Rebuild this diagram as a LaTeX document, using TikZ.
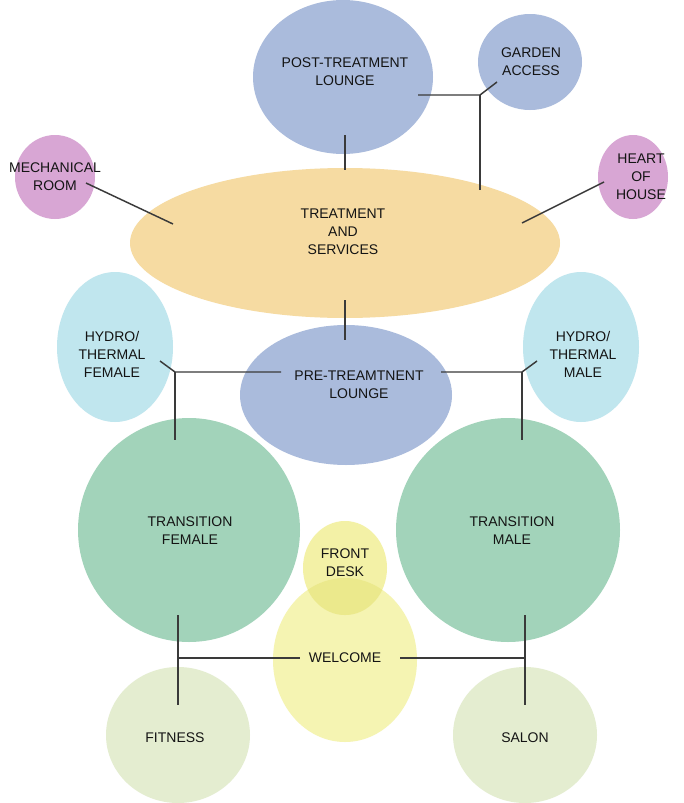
\documentclass[tikz,border=0pt]{standalone}
\usepackage{fontspec}
\setmainfont{Liberation Sans}
\usetikzlibrary{shapes.geometric}
\definecolor{cblue}{HTML}{AABBDC}
\definecolor{corange}{HTML}{F6DBA2}
\definecolor{cpink}{HTML}{D8A6D4}
\definecolor{ccyan}{HTML}{C0E6EE}
\definecolor{cgreen}{HTML}{A2D3BA}
\definecolor{cyel}{HTML}{F5F4B2}
\definecolor{cyeltwo}{HTML}{F3F1A6}
\definecolor{cyelov}{HTML}{EBE98C}
\definecolor{clgreen}{HTML}{E4EDD0}
\definecolor{cline}{HTML}{3A3A3A}
\begin{document}
\begin{tikzpicture}[x=0.75pt,y=-0.75pt,
  blob/.style n args={3}{ellipse, draw=none, fill=#1, inner sep=0pt, minimum width=#2*1.5pt, minimum height=#3*1.5pt},
  lbl/.style={align=center, font=\fontsize{10.5}{13.5}\selectfont, text=black!92, inner sep=0pt},
  link/.style={draw=cline, line width=1.1pt}]
\useasboundingbox[fill=white] (0,0) rectangle (683,803);
% shapes
\node[blob={cblue}{90}{77}] (post) at (343,77) {};
\node[blob={cblue}{52}{48}] (garden) at (530,62) {};
\node[blob={corange}{215}{75}] (treat) at (345,243) {};
\node[blob={cpink}{40}{42}] (mech) at (55,177) {};
\node[blob={cpink}{35}{42}] (heart) at (633,177) {};
\node[blob={ccyan}{58}{75}] (hydf) at (115,347) {};
\node[blob={ccyan}{58}{75}] (hydm) at (581,347) {};
\node[blob={cblue}{106}{70}] (pre) at (346,395) {};
\node[blob={cgreen}{111}{112}] (trf) at (189,530) {};
\node[blob={cgreen}{112}{112}] (trm) at (508,530) {};
\node[blob={cyel}{72}{82}] (welc) at (345,660) {};
\node[blob={cyeltwo}{42}{47}] (desk) at (345,568) {};
\begin{scope}
  \clip (345,660) ellipse [x radius=54pt, y radius=61.5pt];
  \fill[cyelov] (345,568) ellipse [x radius=31.5pt, y radius=35.25pt];
\end{scope}
\node[blob={clgreen}{72}{68}] (fit) at (178,735) {};
\node[blob={clgreen}{72}{68}] (sal) at (525,735) {};
% labels
\node[lbl] (tpost) at (345,72) {POST-TREATMENT\\LOUNGE};
\node[lbl] (tgarden) at (531,62) {GARDEN\\ACCESS};
\node[lbl] (ttreat) at (343,232) {TREATMENT\\AND\\SERVICES};
\node[lbl] (tmech) at (55,177) {MECHANICAL\\ROOM};
\node[lbl] (theart) at (641,177) {HEART\\OF\\HOUSE};
\node[lbl] (thydf) at (112,354) {HYDRO/\\THERMAL\\FEMALE};
\node[lbl] (thydm) at (583,354) {HYDRO/\\THERMAL\\MALE};
\node[lbl] (tpre) at (359,385) {PRE-TREAMTNENT\\LOUNGE};
\node[lbl] (ttrf) at (190,531) {TRANSITION\\FEMALE};
\node[lbl] (ttrm) at (512,531) {TRANSITION\\MALE};
\node[lbl] (tdesk) at (345,563) {FRONT\\DESK};
\node[lbl] (twelc) at (345,658) {WELCOME};
\node[lbl] (tfit) at (175,738) {FITNESS};
\node[lbl] (tsal) at (525,738) {SALON};
% connector points
\coordinate (p1) at (345,135); \coordinate (p2) at (345,170);
\coordinate (g1) at (418,95); \coordinate (gj) at (480,95);
\coordinate (g2) at (497,82); \coordinate (g3) at (480,190);
\coordinate (m1) at (86,183); \coordinate (m2) at (173,224);
\coordinate (h1) at (604,182); \coordinate (h2) at (522,223);
\coordinate (tp1) at (345,300); \coordinate (tp2) at (345,340);
\coordinate (hf1) at (160,361); \coordinate (hfj) at (175,372);
\coordinate (hf2) at (281,372); \coordinate (hf3) at (175,440);
\coordinate (hm1) at (537,361); \coordinate (hmj) at (522,372);
\coordinate (hm2) at (441,372); \coordinate (hm3) at (522,440);
\coordinate (bl1) at (178,615); \coordinate (blj) at (178,658);
\coordinate (bl2) at (178,705); \coordinate (bw1) at (300,658);
\coordinate (br1) at (525,615); \coordinate (brj) at (525,658);
\coordinate (br2) at (525,705); \coordinate (bw2) at (400,658);
% connectors
\draw[link] (p1) -- (p2);
\draw[link] (g1) -- (gj) -- (g2);
\draw[link] (gj) -- (g3);
\draw[link] (m1) -- (m2);
\draw[link] (h1) -- (h2);
\draw[link] (tp1) -- (tp2);
\draw[link] (hf1) -- (hfj) -- (hf2);
\draw[link] (hfj) -- (hf3);
\draw[link] (hm1) -- (hmj) -- (hm2);
\draw[link] (hmj) -- (hm3);
\draw[link] (bl1) -- (bl2);
\draw[link] (blj) -- (bw1);
\draw[link] (br1) -- (br2);
\draw[link] (brj) -- (bw2);
\end{tikzpicture}
\end{document}
